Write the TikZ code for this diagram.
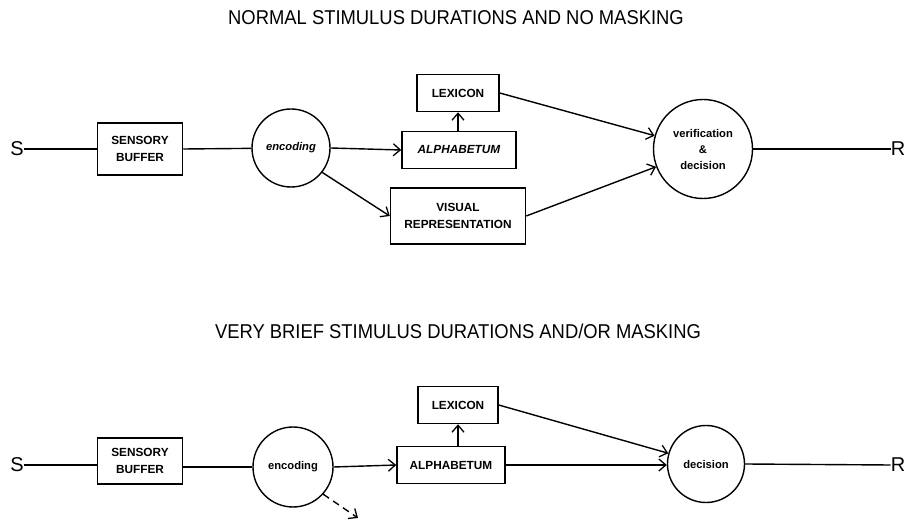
\documentclass[tikz,border=0pt]{standalone}
\usepackage{fontspec}
\setmainfont{Liberation Sans}
\newfontfamily\titlefont[FakeStretch=0.92]{Liberation Sans}
\usetikzlibrary{arrows.meta}
\tikzset{
  x=1pt, y=-1pt,
  conn/.style={line width=1.4pt},
  arr/.style={conn, -{Straight Barb[length=7pt,width=12pt,line width=1.3pt]}},
  box/.style={draw, line width=1.5pt, inner sep=0pt, align=center,
    font=\fontsize{11.8}{17}\selectfont\bfseries},
  circ/.style={draw, circle, line width=1.4pt, inner sep=0pt, align=center,
    font=\fontsize{11.2}{16}\selectfont\bfseries},
  sr/.style={inner sep=0pt, font=\fontsize{20}{20}\selectfont},
  ttl/.style={inner sep=0pt, font=\titlefont\fontsize{20}{20}\selectfont}
}
\begin{document}
\begin{tikzpicture}
\useasboundingbox (0,0) rectangle (906,521);
% ---------- top ----------
\node[ttl] (t1) at (456,18) {NORMAL STIMULUS DURATIONS AND NO MASKING};
\node[sr] (s1) at (17,149) {S};
\node[box, minimum width=85pt, minimum height=52pt] (buf1) at (140,149) {SENSORY\\BUFFER};
\node[circ, minimum size=78pt, font=\fontsize{11.2}{16}\selectfont\bfseries\itshape] (enc1) at (291,148) {encoding};
\node[box, minimum width=114pt, minimum height=37pt, font=\fontsize{11.8}{17}\selectfont\bfseries\itshape] (alph1) at (459,150) {ALPHABETUM};
\node[box, minimum width=82pt, minimum height=37pt] (lex1) at (458,93) {LEXICON};
\node[box, minimum width=135pt, minimum height=56pt] (vis1) at (458,216) {VISUAL\\REPRESENTATION};
\node[circ, minimum size=99pt] (ver1) at (703,149) {verification\\\&\\decision};
\node[sr] (r1) at (898,149) {R};
\draw[conn] (s1) -- (buf1.west);
\draw[conn] (buf1.east) -- (enc1);
\draw[arr] (enc1.east) -- (alph1.west);
\draw[arr] (alph1.north -| lex1.south) -- (lex1.south);
\draw[arr] (enc1.-38) -- (vis1.west);
\draw[arr] (lex1.east) -- (ver1);
\draw[arr] (vis1.east) -- (ver1);
\draw[conn] (ver1.east) -- (r1.west);
% ---------- bottom ----------
\node[ttl] (t2) at (458,331) {VERY BRIEF STIMULUS DURATIONS AND/OR MASKING};
\node[sr] (s2) at (17,465) {S};
\node[box, minimum width=85pt, minimum height=46pt] (buf2) at (140,461) {SENSORY\\BUFFER};
\node[circ, minimum size=80pt] (enc2) at (293,467) {encoding};
\node[box, minimum width=108pt, minimum height=37pt] (alph2) at (451,465) {ALPHABETUM};
\node[box, minimum width=80pt, minimum height=37pt] (lex2) at (458,405) {LEXICON};
\node[circ, minimum size=77pt] (dec2) at (706,464) {decision};
\node[sr] (r2) at (898,465) {R};
\coordinate (dash2) at (358,518);
\draw[conn] (s2) -- (s2 -| buf2.west);
\draw[conn] (buf2.east |- enc2) -- (enc2);
\draw[arr] (enc2.east) -- (alph2.west);
\draw[arr] (alph2.north -| lex2.south) -- (lex2.south);
\draw[arr] (lex2.east) -- (dec2);
\draw[arr] (alph2.east) -- (dec2.west |- alph2.east);
\draw[arr, dashed, dash pattern=on 7pt off 5pt] (enc2.-42) -- (dash2);
\draw[conn] (dec2.east) -- (r2.west);
\end{tikzpicture}
\end{document}
